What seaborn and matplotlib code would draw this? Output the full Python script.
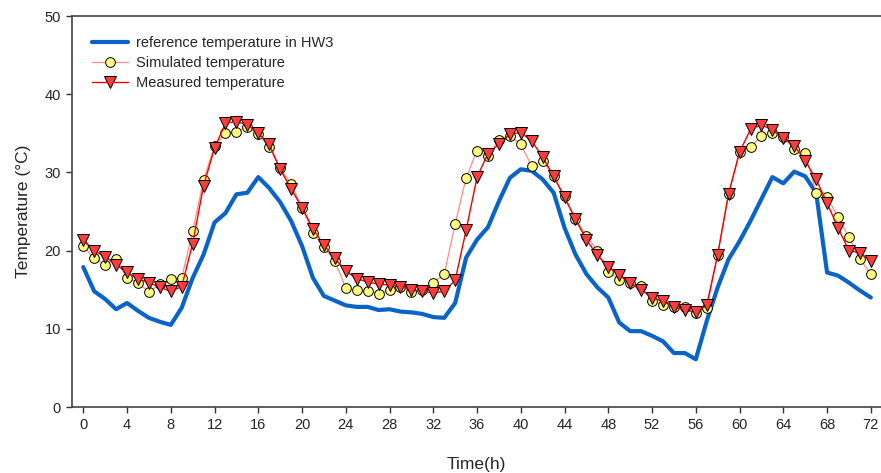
import numpy as np
import pandas as pd
import matplotlib
matplotlib.use("Agg")
import matplotlib.pyplot as plt
import seaborn as sns

# hourly time axis (0 - 72 h)
hours = list(range(0, 73))

# reference temperature in HW3 (blue curve), read at each hour
reference = [17.9, 14.8, 13.8, 12.5, 13.3, 12.3, 11.4, 10.9, 10.5, 12.7,
             16.5, 19.5, 23.6, 24.8, 27.2, 27.4, 29.4, 28.0, 26.2, 23.8,
             20.6, 16.5, 14.2, 13.6, 13.0, 12.8, 12.8, 12.4, 12.5, 12.2,
             12.1, 11.9, 11.5, 11.4, 13.3, 19.1, 21.4, 23.0, 26.3, 29.3,
             30.4, 30.2, 29.1, 27.4, 22.9, 19.5, 17.0, 15.3, 14.0, 10.8,
             9.7, 9.7, 9.1, 8.4, 6.9, 6.9, 6.1, 11.0, 15.3, 18.9,
             21.2, 23.8, 26.6, 29.4, 28.6, 30.1, 29.5, 27.4, 17.2, 16.8,
             15.9, 14.9, 14.0]

# simulated temperature (yellow circles)
simulated = [20.6, 19.0, 18.2, 18.9, 16.5, 15.9, 14.7, 15.7, 16.4, 16.5,
             22.5, 29.0, 33.4, 35.0, 35.2, 35.8, 34.9, 33.2, 30.5, 28.5,
             25.5, 22.3, 20.4, 18.7, 15.2, 14.9, 14.8, 14.5, 14.9, 15.3,
             14.7, 15.0, 15.9, 17.0, 23.4, 29.3, 32.8, 32.1, 34.2, 34.7,
             33.6, 30.8, 31.5, 29.5, 27.0, 24.0, 21.9, 20.0, 17.3, 16.3,
             15.8, 15.5, 13.5, 13.1, 12.8, 12.8, 12.0, 12.6, 19.5, 27.3,
             32.6, 33.2, 34.7, 35.0, 34.5, 33.0, 32.5, 27.4, 26.8, 24.3,
             21.7, 18.9, 17.0]

# measured temperature (red triangles)
measured = [21.3, 20.0, 19.2, 18.2, 17.2, 16.4, 15.9, 15.3, 14.8, 15.4,
            20.9, 28.3, 33.1, 36.3, 36.5, 36.1, 35.0, 33.6, 30.4, 27.9,
            25.5, 22.8, 20.7, 19.0, 17.4, 16.4, 16.0, 15.7, 15.6, 15.4,
            15.0, 14.8, 14.6, 14.8, 16.2, 22.6, 29.4, 32.4, 33.6, 34.9,
            35.1, 34.0, 32.0, 29.5, 26.8, 24.0, 21.4, 19.4, 17.9, 16.9,
            15.8, 15.0, 14.0, 13.5, 12.8, 12.4, 12.1, 13.0, 19.5, 27.3,
            32.6, 35.5, 36.1, 35.4, 34.4, 33.4, 31.5, 29.1, 26.1, 22.9,
            20.0, 19.7, 18.7]

df = pd.DataFrame({"hour": hours, "reference": reference,
                   "simulated": simulated, "measured": measured})

sns.set_style("ticks")
plt.rcParams["font.family"] = ["Liberation Sans", "DejaVu Sans"]

fig = plt.figure(figsize=(8.81, 4.73), dpi=100)
ax = fig.add_axes([72 / 881, 1 - 407 / 473, 809 / 881, 391 / 473])

# blue reference line
sns.lineplot(data=df, x="hour", y="reference", ax=ax, color="#0a64c8",
             linewidth=3, label="reference temperature in HW3")

# simulated: thin pink line with yellow circles
sns.lineplot(data=df, x="hour", y="simulated", ax=ax, color="#ff8a8a",
             linewidth=0.9, marker="o", markersize=7,
             markerfacecolor="#ffff80", markeredgecolor="black",
             markeredgewidth=0.7, label="Simulated temperature")

# measured: red line with red down triangles
sns.lineplot(data=df, x="hour", y="measured", ax=ax, color="#ee0000",
             linewidth=1.0, marker="v", markersize=8,
             markerfacecolor="#ff3c3c", markeredgecolor="black",
             markeredgewidth=0.7, label="Measured temperature")

ax.set_xlim(-1.03, 72.93)
ax.set_ylim(0, 50)
ax.set_xticks(list(range(0, 73, 4)))
ax.set_yticks([0, 10, 20, 30, 40, 50])
ax.tick_params(axis="both", direction="out", length=4, width=1,
               color="#333333", labelsize=10.5, pad=4)

for side in ["left", "bottom", "top"]:
    ax.spines[side].set_color("#444444")
    ax.spines[side].set_linewidth(1.2)
ax.spines["right"].set_visible(False)

ax.set_xlabel("Time(h)", fontsize=12.5, labelpad=18)
ax.set_ylabel("Temperature (°C)", fontsize=12.5, labelpad=10)

ax.legend(loc="upper left", frameon=False, fontsize=10.5,
          handlelength=2.5, borderaxespad=0.95, labelspacing=0.42,
          handletextpad=0.55)

plt.savefig("out.png", dpi=100)
